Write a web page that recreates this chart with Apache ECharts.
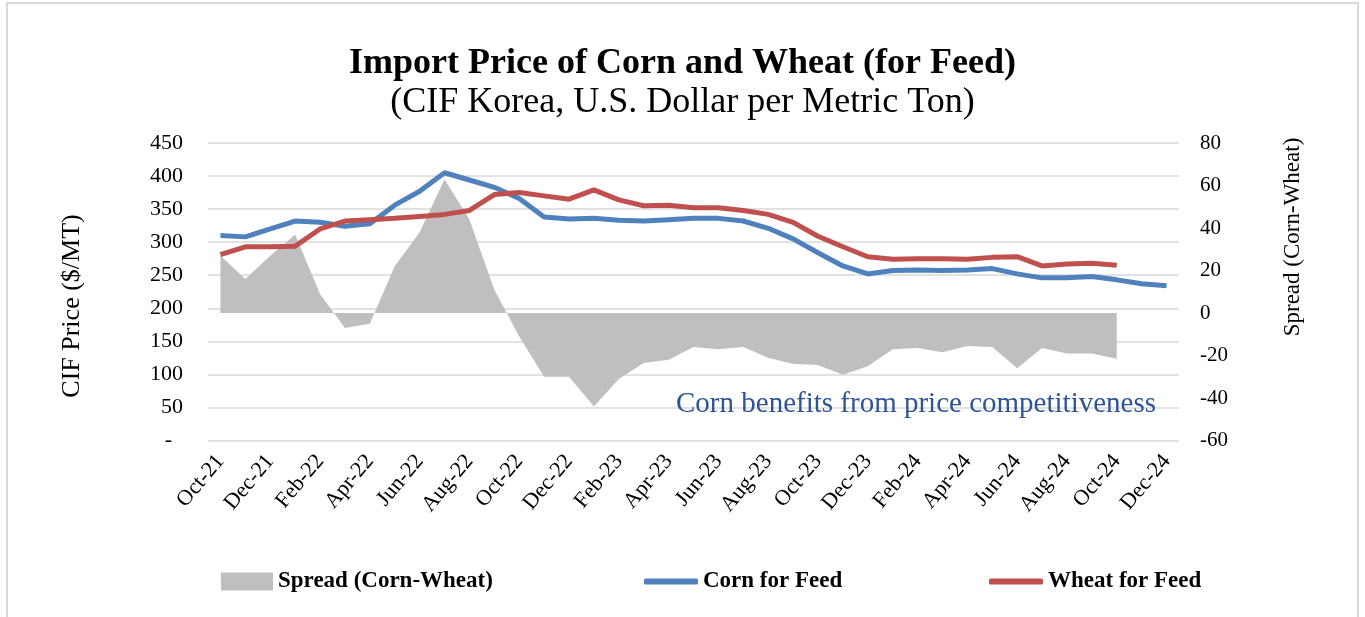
<!DOCTYPE html>
<html>
<head>
<meta charset="utf-8">
<style>
  html, body { margin: 0; padding: 0; background: #fff; }
  #main { width: 1365px; height: 617px; }
</style>
<script src="https://cdn.jsdelivr.net/npm/echarts@6/dist/echarts.min.js"></script>
</head>
<body>
<div id="main"></div>
<script>
// months Oct-21 .. Dec-24
const months = [
  'Oct-21', 'Nov-21', 'Dec-21', 'Jan-22', 'Feb-22', 'Mar-22', 'Apr-22', 'May-22', 'Jun-22', 'Jul-22',
  'Aug-22', 'Sep-22', 'Oct-22', 'Nov-22', 'Dec-22', 'Jan-23', 'Feb-23', 'Mar-23', 'Apr-23', 'May-23',
  'Jun-23', 'Jul-23', 'Aug-23', 'Sep-23', 'Oct-23', 'Nov-23', 'Dec-23', 'Jan-24', 'Feb-24', 'Mar-24',
  'Apr-24', 'May-24', 'Jun-24', 'Jul-24', 'Aug-24', 'Sep-24', 'Oct-24', 'Nov-24', 'Dec-24'
]
// $/MT
const corn = [
  310, 308, 320, 332, 330, 324, 328, 356, 377, 405,
  394, 383, 366, 338, 335, 336, 333, 332, 334, 336,
  336, 332, 321, 305, 284, 264, 252, 257, 258, 257,
  258, 260, 252, 246, 246, 248, 243, 237, 234
]
const wheat = [
  281, 293, 293, 294, 320, 332, 334, 336, 339, 342,
  348, 372, 375, 370, 365, 379, 364, 355, 356, 352,
  352, 348, 342, 330, 309, 293, 278, 274, 275, 275,
  274, 277, 278, 264, 267, 268, 265, null, null
]
// corn - wheat (right axis)
const spread = [
  27, 16, 27, 37, 9, -7, -5, 22, 38, 63,
  44, 11, -11, -30, -30, -44, -31, -23.5, -22, -16,
  -17, -16, -21, -24, -24.5, -29, -25, -17, -16.5, -18.5,
  -15.5, -16, -26, -16.5, -19, -19, -21.5, null, null
]

const FONT = 'Liberation Serif'
const legendText = { fontFamily: FONT, fontSize: 23, fontWeight: 'bold', color: '#000' }
const chart = echarts.init(document.getElementById('main'))

chart.setOption({
  backgroundColor: '#fff',
  animation: false,
  title: [
    {
      text: 'Import Price of Corn and Wheat (for Feed)',
      left: 'center',
      top: 41,
      textStyle: { fontFamily: FONT, fontSize: 36, fontWeight: 'bold', color: '#000' }
    },
    {
      text: '(CIF Korea, U.S. Dollar per Metric Ton)',
      left: 'center',
      top: 80,
      textStyle: { fontFamily: FONT, fontSize: 36, fontWeight: 'normal', color: '#000' }
    }
  ],
  grid: { left: 208, right: 186, top: 143, bottom: 176.5 },
  legend: [
    {
      left: 221, top: 570, padding: 0, itemWidth: 52, itemHeight: 18,
      data: [{ name: 'Spread (Corn-Wheat)', icon: 'rect' }],
      textStyle: legendText
    },
    {
      left: 644, top: 570, padding: 0, itemWidth: 54, itemHeight: 6,
      data: [{ name: 'Corn for Feed', icon: 'roundRect' }],
      textStyle: legendText
    },
    {
      left: 989, top: 570, padding: 0, itemWidth: 54, itemHeight: 6,
      data: [{ name: 'Wheat for Feed', icon: 'roundRect' }],
      textStyle: legendText
    }
  ],
  xAxis: {
    type: 'category',
    data: months,
    boundaryGap: true,
    axisLine: { show: false },
    axisTick: { show: false },
    axisLabel: {
      interval: 1,
      rotate: 50,
      margin: 17,
      fontFamily: FONT,
      fontSize: 22,
      color: '#000'
    }
  },
  yAxis: [
    {
      type: 'value',
      min: 0,
      max: 450,
      interval: 50,
      axisLine: { show: false },
      axisTick: { show: false },
      axisLabel: {
        margin: 25,
        fontFamily: FONT,
        fontSize: 22,
        color: '#000',
        formatter: v => (v === 0 ? '-  ' : v)
      },
      splitLine: { lineStyle: { color: '#d9d9d9', width: 1.5 } }
    },
    {
      type: 'value',
      min: -60,
      max: 80,
      interval: 20,
      axisLine: { show: false },
      axisTick: { show: false },
      axisLabel: { margin: 21, fontFamily: FONT, fontSize: 21, color: '#000' },
      splitLine: { show: false }
    }
  ],
  series: [
    {
      name: 'Spread (Corn-Wheat)',
      type: 'line',
      yAxisIndex: 1,
      data: spread,
      color: '#bfbfbf',
      symbol: 'none',
      lineStyle: { width: 0 },
      areaStyle: { color: '#bfbfbf', opacity: 1, origin: 0 },
      z: 1
    },
    {
      name: 'Corn for Feed',
      type: 'line',
      data: corn,
      color: '#4f81bd',
      symbol: 'none',
      lineStyle: { width: 5, color: '#4f81bd' },
      z: 3
    },
    {
      name: 'Wheat for Feed',
      type: 'line',
      data: wheat,
      color: '#c0504d',
      symbol: 'none',
      lineStyle: { width: 5, color: '#c0504d' },
      z: 4
    }
  ],
  graphic: [
    {
      type: 'rect',
      shape: { x: 7, y: 3, width: 1351, height: 640 },
      style: { fill: null, stroke: '#d9d9d9', lineWidth: 2 },
      silent: true
    },
    {
      type: 'text',
      right: 1365 - 1156,
      top: 390,
      style: {
        text: 'Corn benefits from price competitiveness',
        fontFamily: FONT,
        fontSize: 29,
        fill: '#2f5496'
      },
      z: 10
    },
    // axis titles
    {
      type: 'text',
      x: 72,
      y: 306,
      rotation: Math.PI / 2,
      style: {
        text: 'CIF Price ($/MT)',
        fontFamily: FONT,
        fontSize: 26,
        fill: '#000',
        align: 'center',
        verticalAlign: 'middle'
      }
    },
    {
      type: 'text',
      x: 1293,
      y: 237,
      rotation: Math.PI / 2,
      style: {
        text: 'Spread (Corn-Wheat)',
        fontFamily: FONT,
        fontSize: 23,
        fill: '#000',
        align: 'center',
        verticalAlign: 'middle'
      }
    }
  ]
})
</script>
</body>
</html>
